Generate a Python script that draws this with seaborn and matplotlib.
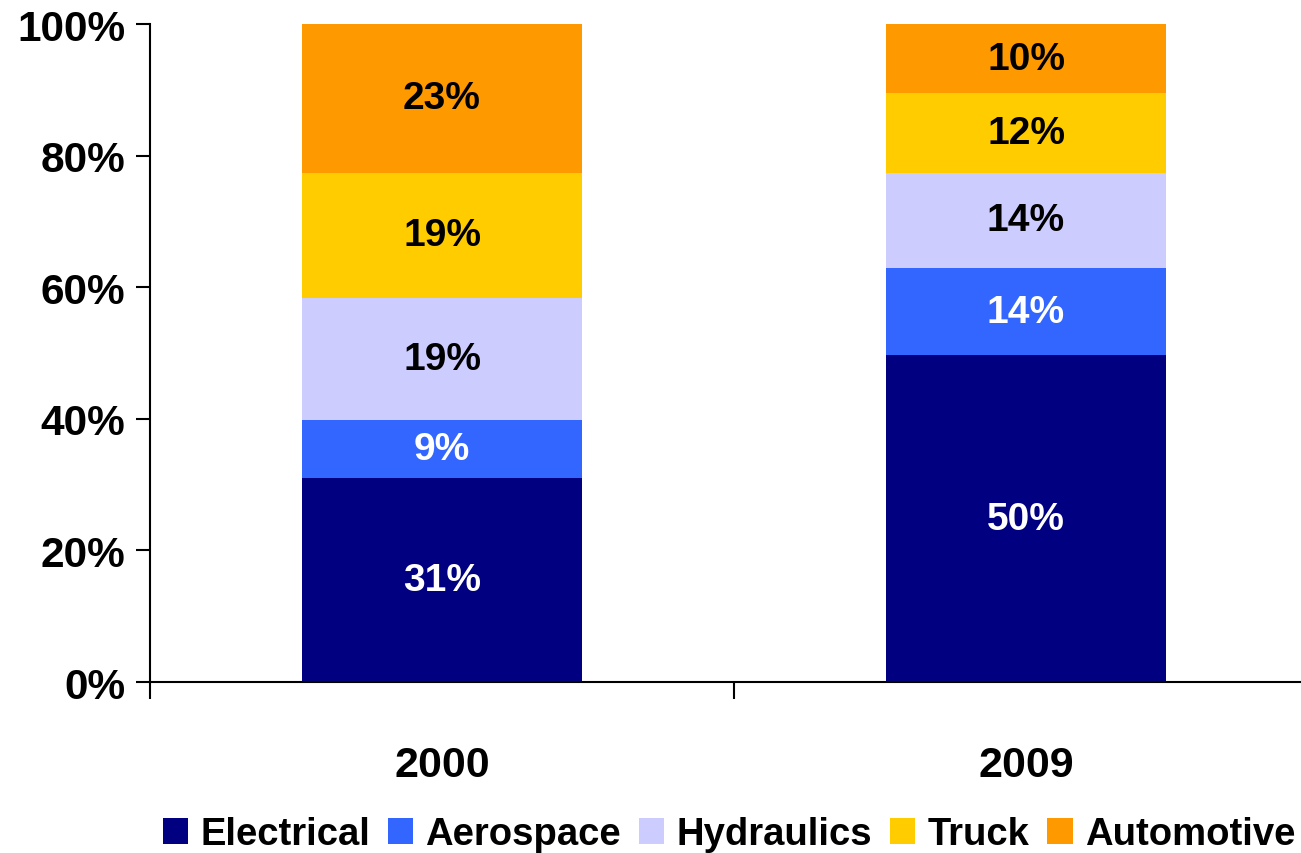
import matplotlib
matplotlib.use("Agg")
import matplotlib.pyplot as plt
import pandas as pd
import seaborn as sns
from matplotlib.patches import Patch

# --- DATA ---
years = ["2000", "2009"]
segments = ["Electrical", "Aerospace", "Hydraulics", "Truck", "Automotive"]
share_2000 = [31.0, 8.8, 18.6, 19.0, 22.6]
share_2009 = [49.7, 13.2, 14.5, 12.1, 10.5]
labels_2000 = ["31%", "9%", "19%", "19%", "23%"]
labels_2009 = ["50%", "14%", "14%", "12%", "10%"]

colors = ["#000080", "#3366FF", "#CCCCFF", "#FFCC00", "#FF9900"]
label_colors = ["white", "white", "black", "black", "black"]

sns.set_theme(style="white")
plt.rcParams['font.family'] = ['Liberation Sans', 'DejaVu Sans']
plt.rcParams['font.weight'] = 'bold'
plt.rcParams['text.color'] = 'black'
plt.rcParams['xtick.color'] = 'black'
plt.rcParams['ytick.color'] = 'black'
plt.rcParams['axes.labelcolor'] = 'black'

df = pd.DataFrame({"year": years})
for i, seg in enumerate(segments):
    df[seg] = [share_2000[i], share_2009[i]]
# cumulative tops for stacked drawing
cum = df[segments].cumsum(axis=1)
cum["year"] = df["year"]

fig = plt.figure(figsize=(13.01, 8.54), dpi=100)
# right edge sits a bit past the canvas, like the original crop
ax = fig.add_axes([0.1153, 0.2002, 0.8978, 0.7705])

# draw from the top segment down so each lower one covers the one above
for seg, col in reversed(list(zip(segments, colors))):
    sns.barplot(data=cum, x="year", y=seg, color=col, width=0.478,
                saturation=1, ax=ax, edgecolor="none", linewidth=0)

# segment labels
all_labels = [labels_2000, labels_2009]
all_vals = [share_2000, share_2009]
for xi in range(len(years)):
    base = 0
    for j, v in enumerate(all_vals[xi]):
        ax.text(xi, base + v / 2, all_labels[xi][j], ha="center", va="center",
                fontsize=28, fontweight="bold", color=label_colors[j])
        base += v

ax.set_xlim(-0.5, 1.5)
ax.set_ylim(0, 100)
ax.set_xlabel("")
ax.set_ylabel("")
ax.set_yticks([0, 20, 40, 60, 80, 100])
ax.set_yticklabels([f"{t}%" for t in [0, 20, 40, 60, 80, 100]])
ax.tick_params(axis="y", which="major", left=True, length=10, width=1.5,
               labelsize=30.5, pad=8, direction="out")
ax.set_xticks([-0.5, 0.5, 1.5], minor=True)
ax.tick_params(axis="x", which="minor", bottom=True, length=12, width=1.5,
               direction="out")
ax.tick_params(axis="x", which="major", bottom=False, labelsize=31, pad=39)
for lab in ax.get_xticklabels() + ax.get_yticklabels():
    lab.set_fontweight("bold")

for side in ["top", "right"]:
    ax.spines[side].set_visible(False)
for side in ["left", "bottom"]:
    ax.spines[side].set_color("black")
    ax.spines[side].set_linewidth(1.5)

handles = [Patch(facecolor=c, edgecolor="none", label=s) for s, c in zip(segments, colors)]
fig.legend(handles=handles, loc="center", bbox_to_anchor=(0.5603, 0.022), ncol=5,
           frameon=False, prop={"weight": "bold", "size": 27.5},
           handlelength=0.66, handleheight=0.68, handletextpad=0.32,
           columnspacing=0.47, borderpad=0, borderaxespad=0)

fig.savefig("out.png", dpi=100, facecolor="white")
